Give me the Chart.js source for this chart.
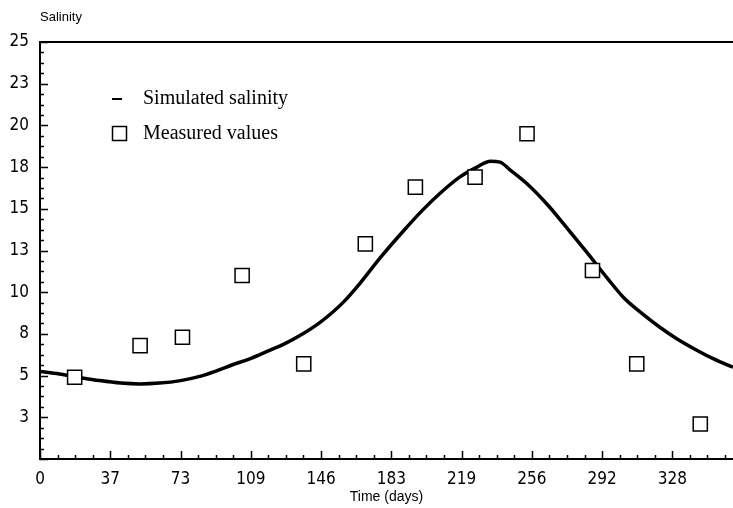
<!DOCTYPE html>
<html>
<head>
<meta charset="utf-8">
<script src="https://cdn.jsdelivr.net/npm/chart.js@4/dist/chart.umd.min.js"></script>
<style>
  body { margin: 0; background: #fff; }
  #wrap { width: 733px; height: 508px; }
</style>
</head>
<body>
<div id="wrap"><canvas id="salinityChart" width="733" height="508"></canvas></div>
<script>
// simulated salinity (day, salinity)
var simDays = [0, 10, 20, 31, 42, 52, 62, 73, 83, 92, 100, 110, 118, 127, 135, 145, 152, 158, 166, 177, 189, 199, 208, 218, 227, 234, 239, 244, 253, 264, 272, 284, 295, 303, 313, 322, 331, 340, 350, 360];
var simSalinity = [5.25, 5.1, 4.9, 4.7, 4.55, 4.5, 4.55, 4.7, 4.95, 5.3, 5.65, 6.05, 6.45, 6.9, 7.4, 8.15, 8.8, 9.45, 10.5, 12.1, 13.7, 14.95, 15.95, 16.9, 17.5, 17.85, 17.8, 17.35, 16.5, 15.2, 14.1, 12.4, 10.8, 9.7, 8.7, 7.9, 7.2, 6.6, 6.0, 5.5];

// measured values
var measDays = [18, 52, 74, 105, 137, 169, 195, 226, 253, 287, 310, 343];
var measSalinity = [4.9, 6.8, 7.3, 11.0, 5.7, 12.9, 16.3, 16.9, 19.5, 11.3, 5.7, 2.1];

var xTickLabels = ['0', '37', '73', '109', '146', '183', '219', '256', '292', '328'];
var yTickLabels = ['', '3', '5', '8', '10', '13', '15', '18', '20', '23', '25'];

var tickFont = '"Liberation Sans Narrow", "DejaVu Sans Condensed", "Liberation Sans", sans-serif';

function toPoints(xs, ys) {
    var pts = [];
    for (var i = 0; i < xs.length; i++) pts.push({ x: xs[i], y: ys[i] });
    return pts;
}

// inward major/minor tick marks, top frame line, y title and legend
var decorPlugin = {
    id: 'decor',
    afterDraw: function (chart) {
        var ctx = chart.ctx;
        var area = chart.chartArea;
        var xs = chart.scales.x, ys = chart.scales.y;
        ctx.save();
        ctx.strokeStyle = '#000';
        ctx.lineWidth = 1.5;
        ctx.beginPath();
        for (var k = 0; k * 9.125 <= xs.max; k++) {
            var px = Math.round(xs.getPixelForValue(k * 9.125)) + 0.5;
            var len = (k % 4 === 0) ? 8 : 4;
            ctx.moveTo(px, area.bottom);
            ctx.lineTo(px, area.bottom - len);
        }
        for (var j = 0; j * 0.625 <= ys.max; j++) {
            var py = Math.round(ys.getPixelForValue(j * 0.625)) + 0.5;
            var ylen = (j % 4 === 0) ? 8 : 4;
            ctx.moveTo(area.left, py);
            ctx.lineTo(area.left + ylen, py);
        }
        ctx.stroke();

        // top frame
        ctx.lineWidth = 2;
        ctx.beginPath();
        ctx.moveTo(area.left, area.top);
        ctx.lineTo(area.right, area.top);
        ctx.stroke();

        // y axis title
        ctx.fillStyle = '#000';
        ctx.font = '13px "Liberation Sans", sans-serif';
        ctx.textAlign = 'left';
        ctx.textBaseline = 'middle';
        ctx.fillText('Salinity', 40, 17);

        // legend
        ctx.lineWidth = 2;
        ctx.beginPath();
        ctx.moveTo(112, 99);
        ctx.lineTo(122, 99);
        ctx.stroke();
        ctx.lineWidth = 1.5;
        ctx.strokeRect(112.5, 126.5, 14, 14);
        ctx.font = '20px "Liberation Serif", serif';
        ctx.fillText('Simulated salinity', 143, 99);
        ctx.fillText('Measured values', 143, 134);
        ctx.restore();
    }
};

var config = {
    type: 'scatter',
    data: {
        datasets: [{
            label: 'Measured values',
            data: toPoints(measDays, measSalinity),
            pointStyle: 'rect',
            pointRadius: 10,
            pointBorderWidth: 1.5,
            pointBorderColor: '#000',
            pointBackgroundColor: '#fff',
            showLine: false,
            order: 0
        }, {
            label: 'Simulated salinity',
            data: toPoints(simDays, simSalinity),
            showLine: true,
            borderColor: '#000',
            borderWidth: 3.5,
            pointRadius: 0,
            cubicInterpolationMode: 'monotone',
            order: 1
        }]
    },
    options: {
        responsive: false,
        animation: false,
        layout: { autoPadding: false, padding: { top: 42, right: 0, left: 0, bottom: 0 } },
        plugins: {
            legend: { display: false },
            tooltip: { enabled: false }
        },
        scales: {
            x: {
                type: 'linear',
                min: 0,
                max: 360,
                grid: { display: false },
                border: { display: true, color: '#000', width: 2 },
                ticks: {
                    stepSize: 36.5,
                    includeBounds: false,
                    autoSkip: false,
                    maxRotation: 0,
                    padding: 2,
                    color: '#000',
                    font: { family: tickFont, size: 17 },
                    callback: function (v, i) { return xTickLabels[i]; }
                },
                title: {
                    display: true,
                    text: 'Time (days)',
                    color: '#000',
                    font: { family: '"Liberation Sans", sans-serif', size: 14 },
                    padding: { top: 0, bottom: 2 }
                },
                afterFit: function (scale) { scale.height = 49; }
            },
            y: {
                min: 0,
                max: 25,
                grid: { display: false },
                border: { display: true, color: '#000', width: 2 },
                ticks: {
                    stepSize: 2.5,
                    padding: 3,
                    color: '#000',
                    font: { family: tickFont, size: 17 },
                    callback: function (v, i) { return yTickLabels[i]; }
                },
                afterFit: function (scale) { scale.width = 40; }
            }
        }
    },
    plugins: [decorPlugin]
};

var salinityChart = new Chart(document.getElementById('salinityChart'), config);
</script>
</body>
</html>
